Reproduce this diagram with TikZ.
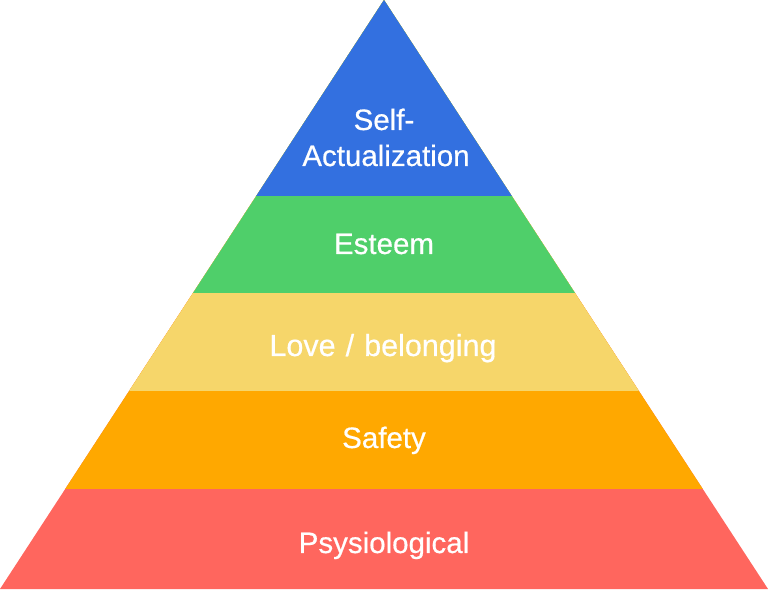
\documentclass[tikz,border=0pt]{standalone}
\usepackage{fontspec}
\setmainfont{Liberation Sans}
\newfontfamily\lblfont{Liberation Sans}[FakeBold=0.5]
\definecolor{cblue}{RGB}{51,112,224}
\definecolor{cgreen}{RGB}{79,207,106}
\definecolor{cyellow}{RGB}{246,214,106}
\definecolor{corange}{RGB}{255,168,0}
\definecolor{cred}{RGB}{255,102,94}
\begin{document}
\begin{tikzpicture}[x=1pt,y=1pt,
  lbl/.style={text=white,font=\lblfont\fontsize{29.5}{36}\selectfont,anchor=base,inner sep=0pt}]
\useasboundingbox (0,0) rectangle (768,589);
% y measured upward; image y -> 589 - y
\coordinate (apex) at (384,589);
\fill[cred]    (apex) -- (0,0) -- (768,0) -- cycle;
\fill[corange] (apex) -- (65.2,100) -- (702.8,100) -- cycle;
\fill[cyellow] (apex) -- (129.1,198) -- (638.9,198) -- cycle;
\fill[cgreen]  (apex) -- (193,296) -- (575,296) -- cycle;
\fill[cblue]   (apex) -- (256.2,393) -- (511.8,393) -- cycle;
\node[lbl] (self) at (384,459) {Self-};
\node[lbl] (act) at (386,423) {Actualization};
\node[lbl] (est) at (384,335) {Esteem};
\node[lbl] (love) at (383,233) {\fontsize{30.5}{36}\selectfont Love\hspace{0.33em}/\hspace{0.33em}belonging};
\node[lbl] (safe) at (384,141) {Safety};
\node[lbl] (phys) at (384,36) {Psysiological};
\end{tikzpicture}
\end{document}
